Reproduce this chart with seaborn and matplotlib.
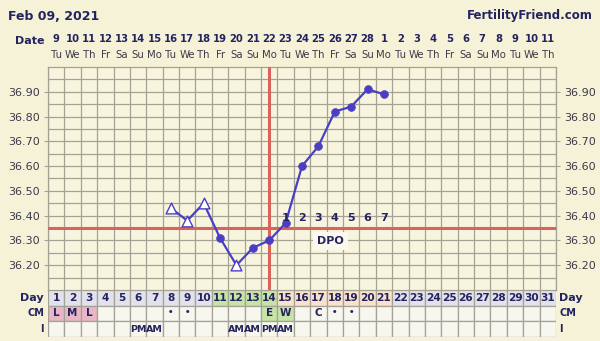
import numpy as np
import pandas as pd
import matplotlib
matplotlib.use("Agg")
import matplotlib.pyplot as plt
import matplotlib.transforms as mtransforms
import seaborn as sns

# ---------------- data ----------------
cycle_days = list(range(1, 32))
date_labels = ["9", "10", "11", "12", "13", "14", "15", "16", "17", "18", "19", "20",
               "21", "22", "23", "24", "25", "26", "27", "28", "1", "2", "3", "4",
               "5", "6", "7", "8", "9", "10", "11"]
weekday_labels = ["Tu", "We", "Th", "Fr", "Sa", "Su", "Mo", "Tu", "We", "Th", "Fr", "Sa",
                  "Su", "Mo", "Tu", "We", "Th", "Fr", "Sa", "Su", "Mo", "Tu", "We", "Th",
                  "Fr", "Sa", "Su", "Mo", "Tu", "We", "Th"]
temp_days = [8, 9, 10, 11, 12, 13, 14, 15, 16, 17, 18, 19, 20, 21]
temps = [36.43, 36.38, 36.45, 36.31, 36.20, 36.27, 36.30, 36.37, 36.60, 36.68,
         36.82, 36.84, 36.91, 36.89]
open_marker = [True, True, True, False, True, False, False, False, False, False,
               False, False, False, False]
coverline = 36.35
ovulation_day = 14
dpo_days = [15, 16, 17, 18, 19, 20, 21]
dpo_labels = ["1", "2", "3", "4", "5", "6", "7"]
cm_days = [1, 2, 3, 8, 9, 14, 15, 17, 18, 19]
cm_labels = ["L", "M", "L", "•", "•", "E", "W", "C", "•", "•"]
i_days = [6, 7, 12, 13, 14, 15]
i_labels = ["PM", "AM", "AM", "AM", "PM", "AM"]
phase = (["menses_pre"] * 10 + ["fertile"] * 4 + ["luteal"] * 7 + ["future"] * 10)
ytick_vals = [36.20, 36.30, 36.40, 36.50, 36.60, 36.70, 36.80, 36.90]

# ---------------- style ----------------
sns.set_style("white")
plt.rcParams["font.family"] = ["DejaVu Sans"]

BG = "#f6f2d8"
PLOT_BG = "#f8f5df"
GRID = "#a3a294"
NAVY = "#23235f"
LINE = "#4a3fc4"
RED = "#d8645c"
CELL = "#f7f6ef"
phase_color = {"menses_pre": "#e2e1ec", "fertile": "#c6e4a6",
               "luteal": "#f8e2cb", "future": "#e2e1ec"}
cm_color = {"L": "#e9b6c6", "M": "#e9b6c6", "E": "#c6e4a6", "W": "#c6e4a6"}

W, H = 600, 341
fig = plt.figure(figsize=(6, 3.41), dpi=100)
fig.patch.set_facecolor(BG)

x0, x1 = 48, 556
ax = fig.add_axes([x0 / W, 1 - 290 / H, (x1 - x0) / W, 223 / H])
tb = fig.add_axes([x0 / W, 1 - 337 / H, (x1 - x0) / W, 47 / H])

# ---------------- main chart ----------------
ax.set_facecolor(PLOT_BG)
ax.set_xlim(0.5, 31.5)
ax.set_ylim(36.10, 37.00)
ax.set_xticks(np.arange(0.5, 31.6, 1.0))
ax.set_xticklabels([])
ax.set_yticks(ytick_vals)
ax.set_yticklabels([f"{v:.2f}" for v in ytick_vals])
ax.set_yticks(np.arange(36.15, 37.0, 0.1), minor=True)
ax.grid(True, which="both", color=GRID, lw=0.9)
ax.set_axisbelow(True)
ax.tick_params(axis="x", length=0)
ax.tick_params(axis="y", which="major", length=3, color=GRID, labelsize=8,
               labelcolor="#3a3a4a", left=True, right=True, labelleft=True,
               labelright=True, pad=3)
ax.tick_params(axis="y", which="minor", length=0)
for s in ax.spines.values():
    s.set_color(GRID)
    s.set_linewidth(0.9)

ax.axhline(coverline, color=RED, lw=2.2, zorder=3)
ax.axvline(ovulation_day, color=RED, lw=2.2, zorder=3)

df = pd.DataFrame({"day": temp_days, "temp": temps, "open": open_marker})
sns.lineplot(data=df, x="day", y="temp", color=LINE, lw=1.6, ax=ax, zorder=4,
             legend=False)
sns.scatterplot(data=df[~df["open"]], x="day", y="temp", color=LINE, s=32,
                edgecolor=LINE, marker="o", ax=ax, zorder=5, legend=False)
sns.scatterplot(data=df[df["open"]], x="day", y="temp", color="white", s=60,
                edgecolor=LINE, linewidth=1.0, marker="^", ax=ax, zorder=5,
                legend=False)
ax.set_xlabel("")
ax.set_ylabel("")

for d, lab in zip(dpo_days, dpo_labels):
    ax.text(d, 36.392, lab, ha="center", va="center", fontsize=8,
            fontweight="bold", color=NAVY, zorder=6)
ax.text(17.75, 36.297, "DPO", ha="center", va="center", fontsize=8,
        fontweight="bold", color=NAVY, zorder=6,
        bbox=dict(boxstyle="square,pad=0.35", fc="#fbf9ee", ec="none"))

# ---------------- header ----------------
trans = mtransforms.blended_transform_factory(ax.transData, fig.transFigure)
fig.text(8 / W, 1 - 16 / H, "Feb 09, 2021", ha="left", va="center",
         fontsize=9, fontweight="bold", color=NAVY)
fig.text(593 / W, 1 - 16 / H, "FertilityFriend.com", ha="right", va="center",
         fontsize=8.5, fontweight="bold", color=NAVY)
fig.text(44 / W, 1 - 41 / H, "Date", ha="right", va="center", fontsize=8,
         fontweight="bold", color=NAVY)
for d, lab, wd in zip(cycle_days, date_labels, weekday_labels):
    ax.text(d, 1 - 39 / H, lab, transform=trans, ha="center", va="center",
            fontsize=7.2, fontweight="bold", color=NAVY)
    ax.text(d, 1 - 55 / H, wd, transform=trans, ha="center", va="center",
            fontsize=7.3, color="#3a3a4a")

# ---------------- bottom table ----------------
tb.set_xlim(0.5, 31.5)
tb.set_ylim(0, 3)
tb.axis("off")
day_colors = [phase_color[p] for p in phase]
tb.bar(cycle_days, 1, bottom=2, width=1, color=day_colors, edgecolor=GRID,
       linewidth=0.9)
cm_cell = [cm_color.get(cm_labels[cm_days.index(d)], CELL) if d in cm_days else CELL
           for d in cycle_days]
tb.bar(cycle_days, 1, bottom=1, width=1, color=cm_cell, edgecolor=GRID,
       linewidth=0.9)
tb.bar(cycle_days, 1, bottom=0, width=1, color=CELL, edgecolor=GRID,
       linewidth=0.9)
for d in cycle_days:
    tb.text(d, 2.5, str(d), ha="center", va="center", fontsize=7.6,
            fontweight="bold", color=NAVY)
for d, lab in zip(cm_days, cm_labels):
    tb.text(d, 1.55 if lab == "•" else 1.5, lab, ha="center", va="center",
            fontsize=7.5 if lab != "•" else 6, fontweight="bold", color=NAVY)
for d, lab in zip(i_days, i_labels):
    tb.text(d, 0.5, lab, ha="center", va="center", fontsize=6.8,
            fontweight="bold", color=NAVY)

for row_y, lab in zip([1 - 298 / H, 1 - 313 / H, 1 - 329 / H], ["Day", "CM", "I"]):
    fig.text(44 / W, row_y, lab, ha="right", va="center", fontsize=8 if lab == "Day" else 7,
             fontweight="bold", color=NAVY)
    fig.text(559 / W, row_y, lab, ha="left", va="center", fontsize=8 if lab == "Day" else 7,
             fontweight="bold", color=NAVY)

fig.savefig("out.png", dpi=100, facecolor=BG)
